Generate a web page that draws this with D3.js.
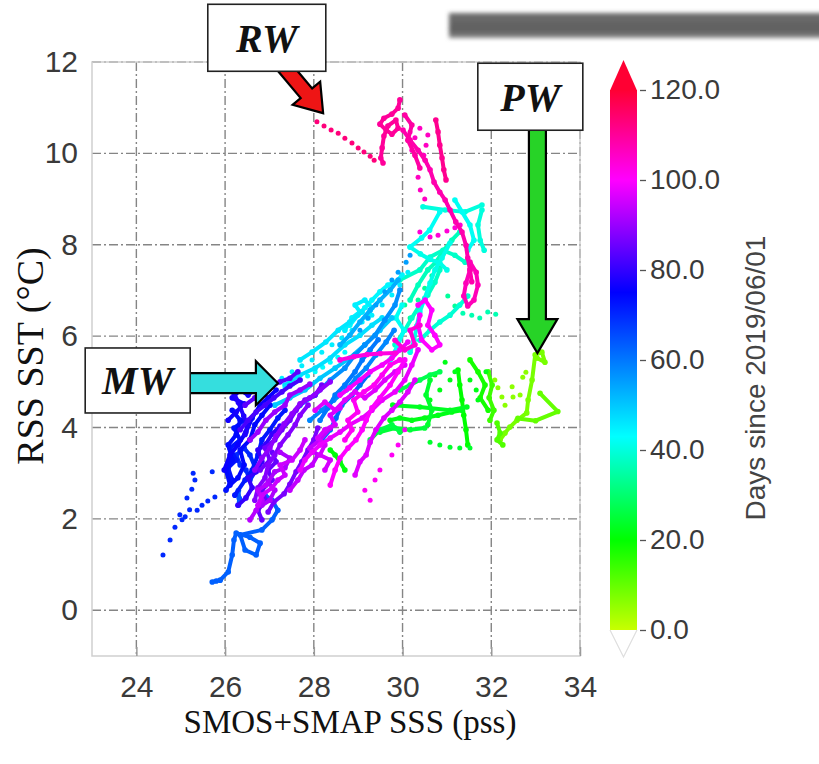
<!DOCTYPE html>
<html>
<head>
<meta charset="utf-8">
<script src="https://cdn.jsdelivr.net/npm/d3@7"></script>
<style>
  html, body { margin: 0; padding: 0; background: #fff; }
  svg { display: block; }
</style>
</head>
<body>
<svg id="chart" width="819" height="764"></svg>
<script>
// ---- axes and colour bar ----
const xTicks = [24, 26, 28, 30, 32, 34];
const yTicks = [0, 2, 4, 6, 8, 10, 12];
const cbarTicks = [0, 20, 40, 60, 80, 100, 120];
const cbarStopDays = [0, 20, 43, 75, 100, 120];
const cbarStopColors = ["#c8ff00", "#00ff00", "#00ffff", "#0000ff", "#ff00ff", "#ff0033"];

// ---- float tracks: day since 2019/06/01, then [SSS (pss), SST (°C)] pairs ----
// runs that read as continuous lines
const coldFreshTracks = [
  {day: 63, pts: [[25.71,0.62],[25.80,0.64],[25.89,0.66],[26.07,0.84],[26.16,1.21],[26.20,1.54],[26.25,1.69],[26.56,1.60],[26.79,1.47],[26.70,1.21],[26.45,1.32],[26.34,1.65],[26.83,1.76],[27.06,1.98],[27.19,2.19],[27.06,2.41],[26.90,2.52]]},
  {day: 64, pts: [[26.30,2.30],[26.32,2.45],[26.30,2.62]]},
  {day: 70, pts: [[26.34,3.18],[26.25,3.40],[26.43,3.55],[26.56,3.40],[26.70,3.07],[26.56,2.85],[26.47,3.07]]},
  {day: 72, pts: [[26.22,2.52],[26.45,2.85],[26.61,3.07],[26.74,3.40],[26.83,3.73],[27.01,3.95],[27.19,4.21],[27.35,4.38]]},
  {day: 73, pts: [[26.02,2.63],[26.16,2.85],[26.07,3.12],[26.25,3.29],[26.11,3.55],[26.34,3.73],[26.20,3.99],[26.43,4.16]]},
  {day: 74, pts: [[26.16,4.38],[26.34,4.16],[26.25,3.84],[26.07,3.62],[26.16,3.29],[26.02,3.07],[26.11,2.74],[26.29,2.90],[26.43,3.18],[26.34,3.51],[26.56,3.73],[26.67,4.06],[26.83,4.27],[27.01,4.49]]},
  {day: 76, pts: [[25.98,3.07],[26.11,3.40],[26.29,3.62],[26.47,3.90],[26.61,4.21],[26.79,4.49],[26.97,4.65],[27.15,4.82]]},
  {day: 77, pts: [[26.07,4.16],[26.25,4.34],[26.43,4.52],[26.16,4.65],[26.34,4.82],[26.52,4.71],[26.70,4.87]]},
  {day: 78, pts: [[26.12,4.93],[26.20,4.75],[26.30,4.55],[26.42,4.25],[26.50,4.05],[26.45,3.85]]},
  {day: 80, pts: [[26.29,2.30],[26.47,2.46],[26.61,2.68],[26.52,2.90],[26.70,3.03],[26.83,3.25],[26.74,3.51],[26.92,3.64],[27.06,3.86],[27.24,4.03]]},
  {day: 82, pts: [[26.34,3.95],[26.52,4.16],[26.70,4.34],[26.90,4.49],[27.10,4.65],[27.28,4.78],[27.46,4.91],[27.69,5.04]]},
  {day: 84, pts: [[26.45,4.49],[26.67,4.65],[26.83,4.78],[27.01,4.87],[27.24,5.00],[27.46,5.08],[27.64,5.22]]},
  {day: 85, pts: [[26.83,1.98],[26.74,2.19],[26.92,2.41],[26.83,2.63],[27.06,2.85],[26.97,3.07],[27.15,3.25],[27.06,3.46]]},
  {day: 86, pts: [[26.79,3.07],[27.01,3.29],[26.90,3.55],[27.12,3.73],[27.28,3.95],[27.46,4.16],[27.60,4.38],[27.80,4.60],[28.03,4.71],[28.18,4.93]]},
  {day: 87, pts: [[26.97,2.15],[27.10,2.37],[27.33,2.55],[27.46,2.76],[27.60,3.03],[27.73,3.25],[27.87,3.51],[28.00,3.73],[28.09,3.99]]},
  {day: 88, pts: [[26.67,2.41],[26.74,2.68],[26.90,2.90],[26.97,3.18],[27.12,3.40],[27.24,3.62],[27.42,3.84],[27.58,4.06],[27.69,4.27],[27.87,4.49]]},
  {day: 89, pts: [[26.67,3.07],[26.83,3.33],[27.01,3.55],[27.15,3.82],[27.33,4.08],[27.51,4.30],[27.69,4.52],[27.91,4.65],[28.14,4.82],[28.37,5.00]]},
  {day: 90, pts: [[26.56,3.73],[26.74,3.90],[26.92,4.16],[27.12,4.34],[27.35,4.49],[27.46,4.71],[27.69,4.82],[27.91,4.95]]},
  {day: 92, pts: [[26.83,2.30],[27.01,2.41],[27.12,2.63],[26.97,2.81],[27.12,3.03],[27.35,3.12],[27.46,3.33],[27.24,3.46]]},
  {day: 93, pts: [[26.56,1.98],[26.70,2.19],[26.83,2.41],[26.74,2.63],[26.92,2.74]]},
  {day: 94, pts: [[27.46,2.63],[27.64,2.85],[27.78,3.07],[27.96,3.18],[28.09,3.40],[27.91,3.55],[28.14,3.73],[28.37,3.99]]},
  {day: 95, pts: [[26.74,2.30],[26.83,2.52],[27.06,2.68],[27.19,2.85],[27.35,2.96],[27.24,3.18],[27.51,3.29],[27.69,3.51],[27.80,3.73]]}
];

const midTracks = [
  {day: 38, pts: [[29.83,5.81],[30.05,6.13],[30.21,6.40],[30.39,6.68],[30.57,6.90],[30.73,7.18],[30.84,7.45]]},
  {day: 42, pts: [[29.72,5.48],[29.90,5.81],[30.03,6.13],[29.85,6.40],[29.99,6.68]]},
  {day: 44, pts: [[28.81,6.24],[28.99,6.46],[29.15,6.62],[29.31,6.79],[29.49,6.97],[29.67,7.12],[29.85,7.18],[29.99,7.34]]},
  {day: 45, pts: [[28.70,6.13],[28.86,6.40],[29.04,6.53],[28.93,6.68],[29.15,6.79],[29.31,6.62],[29.22,6.40]]},
  {day: 46, pts: [[27.69,5.48],[27.96,5.65],[28.27,5.87],[28.55,6.13],[28.81,6.31],[29.09,6.53]]},
  {day: 47, pts: [[27.35,4.93],[27.69,5.15],[28.03,5.30],[28.37,5.52],[28.70,5.81],[29.04,6.02],[29.31,6.24],[29.54,6.40]]},
  {day: 50, pts: [[27.12,4.49],[27.46,4.65],[27.80,4.82],[28.14,5.08],[28.48,5.30],[28.81,5.52],[29.15,5.81],[29.49,6.13],[29.76,6.40]]},
  {day: 53, pts: [[28.59,5.81],[28.81,6.02],[29.04,6.31],[29.27,6.57],[29.49,6.79],[29.72,7.01],[29.90,7.23]]},
  {day: 57, pts: [[27.69,4.49],[28.03,4.71],[28.37,5.04],[28.70,5.30],[28.93,5.59],[29.15,5.81],[29.38,6.02],[29.60,6.35],[29.83,6.68],[29.94,7.01]]},
  {day: 58, pts: [[27.91,4.16],[28.18,4.38],[28.45,4.60],[28.73,4.82],[28.95,5.08],[29.18,5.30],[29.40,5.59],[29.63,5.87],[29.81,6.13]]},
  {day: 60, pts: [[28.14,4.16],[28.32,4.43],[28.48,4.71],[28.70,4.93],[28.93,5.22],[29.09,5.48],[29.27,5.70],[29.45,5.92]]},
  {day: 62, pts: [[28.18,3.73],[28.37,3.95],[28.50,4.21],[28.63,4.49],[28.86,4.71],[29.04,4.93],[29.22,5.15]]},
  {day: 96, pts: [[28.25,3.07],[28.37,3.29],[28.14,3.40],[28.25,3.62],[28.09,3.77],[28.25,3.95],[28.48,4.06],[28.37,4.27],[28.59,4.43]]},
  {day: 97, pts: [[28.93,2.96],[29.04,3.25],[29.18,3.40],[29.27,3.68],[29.40,3.95],[29.58,4.21],[29.76,4.38],[29.94,4.56],[30.12,4.78],[30.28,5.04]]},
  {day: 97, pts: [[28.03,4.38],[28.25,4.56],[28.48,4.38],[28.70,4.60],[28.93,4.78],[29.15,4.65],[29.38,4.82],[29.60,5.04],[29.83,5.22],[30.05,5.37]]},
  {day: 98, pts: [[27.69,3.07],[27.80,3.29],[27.96,3.46],[28.14,3.62],[28.37,3.77],[28.59,3.90],[28.81,4.06],[29.09,4.21],[29.31,4.38],[29.54,4.60],[29.83,4.78],[30.05,5.04],[30.21,5.37],[30.35,5.70]]},
  {day: 99, pts: [[28.59,4.71],[28.81,4.87],[29.04,5.04],[29.27,5.22],[29.54,5.37],[29.76,5.52],[29.94,5.70],[30.12,5.87]]},
  {day: 100, pts: [[28.37,2.74],[28.48,3.07],[28.59,3.33],[28.77,3.55],[28.95,3.73],[29.09,3.95],[29.18,4.16],[29.31,4.43],[29.49,4.65],[29.72,4.93],[29.90,5.22],[30.05,5.48]]},
  {day: 101, pts: [[28.70,3.73],[28.86,3.95],[28.77,4.16],[28.99,4.34],[28.90,4.60],[29.13,4.78],[29.36,4.93],[29.54,5.15],[29.72,5.37],[29.94,5.48]]},
  {day: 103, pts: [[28.59,5.48],[28.90,5.55],[29.20,5.60],[29.50,5.62],[29.83,5.63]]},
  {day: 104, pts: [[29.83,5.91],[30.05,5.70],[30.28,5.81],[30.17,6.13],[30.39,6.24]]}
];

const warmTracks = [
  {day: 37, pts: [[30.17,6.79],[30.35,7.12],[30.57,7.45],[30.75,7.62],[30.93,7.88],[31.11,8.10],[31.29,8.28]]},
  {day: 38, pts: [[29.94,7.23],[30.39,7.45],[30.62,7.73],[30.91,7.88],[31.18,7.77],[31.41,7.62]]},
  {day: 39, pts: [[30.39,5.91],[30.62,6.13],[30.84,6.31],[31.07,6.46],[31.29,6.68],[31.47,6.88]]},
  {day: 40, pts: [[30.46,8.83],[30.96,8.76],[31.41,8.72],[31.79,8.87]]},
  {day: 40, pts: [[31.79,8.76],[31.70,8.43],[31.75,8.10],[31.84,7.88]]},
  {day: 41, pts: [[31.07,8.04],[30.89,7.71],[30.73,7.45],[30.62,7.16],[30.50,6.83],[30.39,6.53],[30.32,6.22],[30.26,5.91],[30.17,5.65]]},
  {day: 41, pts: [[30.17,7.95],[30.40,7.80],[30.62,7.68],[30.84,7.60],[31.00,7.45]]},
  {day: 42, pts: [[30.17,7.95],[30.43,8.15],[30.61,8.32],[30.84,8.72]]},
  {day: 42, pts: [[31.18,8.98],[31.34,8.72],[31.52,8.43],[31.61,8.10],[31.47,7.88]]},
  {day: 100, pts: [[30.35,6.68],[30.51,6.79],[30.66,6.57],[30.57,6.24],[30.73,6.02],[30.84,5.81],[30.66,5.70],[30.43,5.92],[30.35,6.24],[30.39,6.46]]},
  {day: 107, pts: [[31.52,7.62],[31.66,7.40],[31.70,7.12],[31.61,6.79],[31.47,6.66],[31.38,6.88],[31.43,7.16],[31.52,7.45]]},
  {day: 108, pts: [[30.01,10.51],[30.17,10.29],[30.35,10.07],[30.51,9.85],[30.62,9.64],[30.71,9.37],[30.84,9.15],[30.96,8.98],[31.07,8.76],[31.20,8.50],[31.34,8.28],[31.43,7.99],[31.47,7.71],[31.52,7.45],[31.56,7.19]]},
  {day: 109, pts: [[30.05,10.84],[30.21,10.62],[30.12,10.29],[30.28,9.96],[30.39,9.68]]},
  {day: 110, pts: [[29.94,11.17],[29.90,10.99],[29.76,10.86],[29.58,10.77],[29.49,10.64],[29.63,10.51],[29.76,10.42],[29.90,10.55],[29.85,10.73],[29.67,10.60],[29.58,10.38],[29.54,10.12],[29.51,9.90],[29.56,9.79]]},
  {day: 111, pts: [[30.75,10.73],[30.80,10.47],[30.84,10.18],[30.89,9.90],[30.93,9.64],[30.98,9.42]]}
];

const greenTracks = [
  {day: 8, pts: [[33.03,5.52],[33.21,5.43],[33.14,5.65],[32.99,5.59],[32.92,5.04],[32.83,4.60],[32.80,4.32],[32.58,4.16],[32.42,4.01],[32.31,3.88],[32.20,3.73]]},
  {day: 10, pts: [[33.10,4.75],[33.50,4.35],[33.00,4.15],[32.60,4.20]]},
  {day: 12, pts: [[32.13,4.10],[32.20,3.88],[32.13,3.73],[32.26,3.62]]},
  {day: 14, pts: [[31.93,5.22],[32.02,4.93],[31.95,4.65],[32.06,4.38],[31.97,4.16]]},
  {day: 18, pts: [[31.52,5.48],[31.70,5.22],[31.86,4.93],[31.75,4.65],[31.93,4.38]]},
  {day: 20, pts: [[31.25,5.26],[31.29,4.93],[31.34,4.60],[31.38,4.27],[31.43,3.95],[31.47,3.62]]},
  {day: 21, pts: [[28.37,3.51],[28.48,3.40],[28.59,3.25],[28.70,3.07]]},
  {day: 22, pts: [[29.72,4.16],[29.94,4.21],[30.21,4.16],[30.50,4.21],[30.80,4.27],[31.11,4.34],[31.34,4.38]]},
  {day: 23, pts: [[29.78,4.49],[30.39,4.45],[31.07,4.38],[31.45,4.45]]},
  {day: 24, pts: [[30.62,5.04],[30.53,4.71],[30.66,4.38],[30.57,4.06]]},
  {day: 25, pts: [[29.49,3.90],[29.83,3.99],[30.17,3.95],[30.50,3.99]]},
  {day: 26, pts: [[29.27,3.73],[29.49,3.95],[29.76,4.06],[29.94,3.90]]},
  {day: 27, pts: [[29.94,4.82],[30.17,4.93],[30.39,5.04],[30.62,5.15],[30.84,5.22]]}
];

// runs that read as separate dots
const dottedTracks = [
  {day: 6, pts: [[32.08,5.04],[32.15,4.87],[32.24,4.67],[32.31,4.49],[32.47,4.89],[32.49,4.67],[32.65,4.71],[32.71,5.10],[32.78,5.21]]},
  {day: 22, pts: [[30.62,4.60],[30.84,4.82],[31.07,5.04],[31.18,5.22],[31.52,5.04],[31.66,4.82],[31.88,5.22],[31.70,4.60],[30.96,5.43],[30.73,5.15]]},
  {day: 24, pts: [[30.62,3.68],[30.84,3.62],[31.07,3.57],[31.29,3.55],[31.52,3.55]]},
  {day: 34, pts: [[30.35,6.79],[30.50,7.05],[30.66,7.32],[30.84,7.49],[31.02,6.88],[31.18,6.66],[30.17,6.40],[30.05,6.68]]},
  {day: 36, pts: [[31.36,6.50],[31.56,6.46],[31.74,6.40],[31.92,6.53],[32.10,6.48]]},
  {day: 43, pts: [[27.35,4.87],[27.52,4.95],[27.69,5.04],[27.86,5.13],[28.03,5.22],[28.20,5.32],[28.37,5.43],[28.54,5.54],[28.70,5.65]]},
  {day: 45, pts: [[27.28,5.08],[27.51,5.22],[27.73,5.35],[27.96,5.48],[28.18,5.65],[28.41,5.81],[28.63,5.96],[28.86,6.13],[29.09,6.31],[29.31,6.46],[29.54,6.68],[29.76,6.90],[29.94,7.12],[30.12,7.40]]},
  {day: 55, pts: [[29.04,6.13],[29.22,6.40],[29.40,6.68],[29.60,6.97],[29.76,7.23],[29.90,7.40],[30.08,7.62],[30.17,7.77]]},
  {day: 70, pts: [[24.60,1.21],[24.76,1.54],[24.87,1.82],[25.03,1.98],[24.98,2.09],[25.14,2.46],[25.25,2.65],[25.32,2.85],[25.28,3.00],[25.71,3.03],[25.37,2.19],[25.48,2.30],[25.61,2.39],[25.77,2.48],[25.20,2.20],[25.10,2.05]]},
  {day: 101, pts: [[29.38,2.85],[29.49,3.07],[29.76,3.40],[29.90,3.62],[30.05,3.95],[29.15,2.63],[29.27,2.41]]},
  {day: 104, pts: [[30.39,8.28],[30.62,8.17],[30.80,8.21],[31.00,8.30],[31.18,8.37],[31.30,8.43]]},
  {day: 106, pts: [[30.17,10.47],[30.28,10.34],[30.39,10.55],[30.53,10.18],[30.57,10.40],[30.21,10.07],[30.48,9.96],[30.35,9.48],[30.40,9.20],[30.50,9.00]]},
  {day: 113, pts: [[28.07,10.69],[28.23,10.60],[28.39,10.51],[28.55,10.44],[28.70,10.33],[28.86,10.23],[29.00,10.12],[29.13,10.03],[29.27,9.94],[29.36,9.85]]}
];

// ---- water-mass call-outs: box centre and arrow tail/tip in data units ----
const calloutLabels = ["RW", "PW", "MW"];
const calloutBoxes = [[26.94, 12.53], [32.88, 11.24], [24.03, 5.03]];
const calloutTails = [[27.24, 12.0], [33.04, 10.62], [25.10, 4.97]];
const calloutTips = [[28.21, 10.88], [33.04, 5.63], [27.19, 4.97]];
const calloutColors = ["#ee1515", "#27d327", "#35dede"];

// ---- layout ----
const svg = d3.select("#chart");
const plot = {left: 92, right: 580, top: 62, bottom: 656};
const x = d3.scaleLinear().domain([23, 34]).range([plot.left, plot.right]);
const y = d3.scaleLinear().domain([-1, 12]).range([plot.bottom, plot.top]);
const color = d3.scaleLinear().domain(cbarStopDays).range(cbarStopColors).clamp(true);

const defs = svg.append("defs");
const blur = defs.append("filter").attr("id", "soft").attr("x", "-10%").attr("y", "-60%").attr("width", "120%").attr("height", "220%");
blur.append("feGaussianBlur").attr("stdDeviation", 2.2);
const barGrad = defs.append("linearGradient").attr("id", "barShade").attr("x1", 0).attr("y1", 0).attr("x2", 0).attr("y2", 1);
barGrad.append("stop").attr("offset", "0%").attr("stop-color", "#6e6e6e");
barGrad.append("stop").attr("offset", "70%").attr("stop-color", "#5e5e5e");
barGrad.append("stop").attr("offset", "100%").attr("stop-color", "#8a8a8a");

// decorative header bar
svg.append("rect").attr("x", 449).attr("y", 13).attr("width", 380).attr("height", 25)
  .attr("fill", "url(#barShade)").attr("filter", "url(#soft)");

// grid
const grid = svg.append("g").attr("stroke", "#858585").attr("stroke-width", 1.4)
  .attr("stroke-dasharray", "9,3,2,3").attr("fill", "none");
grid.selectAll("line.gx").data(xTicks).join("line")
  .attr("x1", d => x(d)).attr("x2", d => x(d)).attr("y1", plot.top).attr("y2", plot.bottom);
grid.selectAll("line.gy").data(yTicks).join("line")
  .attr("y1", d => y(d)).attr("y2", d => y(d)).attr("x1", plot.left).attr("x2", plot.right);

// frame
svg.append("rect").attr("x", plot.left).attr("y", plot.top)
  .attr("width", plot.right - plot.left).attr("height", plot.bottom - plot.top)
  .attr("fill", "none").attr("stroke", "#cfcfcf").attr("stroke-width", 1.5);
// redraw top and right grid on top of the frame
grid.append("line").attr("x1", plot.left).attr("x2", plot.right).attr("y1", y(12)).attr("y2", y(12));
grid.append("line").attr("x1", x(34)).attr("x2", x(34)).attr("y1", plot.top).attr("y2", plot.bottom);

// axes
const xAxis = svg.append("g").attr("transform", `translate(0,${plot.bottom})`)
  .call(d3.axisBottom(x).tickValues(xTicks).tickFormat(d3.format("d")).tickSizeInner(-9).tickSizeOuter(0).tickPadding(20));
const yAxis = svg.append("g").attr("transform", `translate(${plot.left},0)`)
  .call(d3.axisLeft(y).tickValues(yTicks).tickFormat(d3.format("d")).tickSize(0).tickPadding(14));
[xAxis, yAxis].forEach(g => {
  g.select(".domain").remove();
  g.selectAll(".tick line").attr("stroke", "#9a9a9a").attr("stroke-width", 1.5);
  g.selectAll(".tick text").attr("fill", "#3a3a3a")
    .style("font-family", "'Liberation Sans', Arial, sans-serif").style("font-size", "30px");
});

svg.append("text").attr("x", 350).attr("y", 733).attr("text-anchor", "middle")
  .style("font-family", "'Liberation Serif', 'Times New Roman', serif").style("font-size", "33px")
  .attr("fill", "#111").text("SMOS+SMAP SSS (pss)");
svg.append("text").attr("transform", "translate(43,356) rotate(-90)").attr("text-anchor", "middle")
  .style("font-family", "'Liberation Serif', 'Times New Roman', serif").style("font-size", "38px")
  .attr("fill", "#111").text("RSS SST (°C)");

// tracks, earliest days first so later days sit on top
const allLines = [...coldFreshTracks, ...midTracks, ...warmTracks, ...greenTracks].map(t => ({...t, kind: "line"}));
const allDots = dottedTracks.map(t => ({...t, kind: "dots"}));
const tracks = [...allLines, ...allDots].sort((a, b) => a.day - b.day);
const lineGen = d3.line().x(d => x(d[0])).y(d => y(d[1]));
const marks = svg.append("g");
tracks.forEach(t => {
  const c = color(t.day);
  if (t.kind === "line") {
    marks.append("path").datum(t.pts).attr("d", lineGen)
      .attr("fill", "none").attr("stroke", c).attr("stroke-width", 4)
      .attr("stroke-linejoin", "round").attr("stroke-linecap", "round");
  }
  marks.append("g").selectAll("circle").data(t.pts).join("circle")
    .attr("cx", d => x(d[0])).attr("cy", d => y(d[1]))
    .attr("r", t.kind === "line" ? 2.8 : 2.5).attr("fill", c);
});

// colour bar
const cb = {x: 610, w: 27, top: 90, bottom: 630};
const cy = d3.scaleLinear().domain([0, 120]).range([cb.bottom, cb.top]);
const cbGrad = defs.append("linearGradient").attr("id", "cbGrad").attr("x1", 0).attr("y1", 1).attr("x2", 0).attr("y2", 0);
cbarStopDays.forEach((d, i) => {
  cbGrad.append("stop").attr("offset", (d / 120 * 100) + "%").attr("stop-color", cbarStopColors[i]);
});
svg.append("rect").attr("x", cb.x).attr("y", cy(120)).attr("width", cb.w).attr("height", cy(0) - cy(120))
  .attr("fill", "url(#cbGrad)");
svg.append("path")
  .attr("d", `M${cb.x},${cy(120) + 0.5} L${cb.x + cb.w / 2},${cy(120) - 30} L${cb.x + cb.w},${cy(120) + 0.5} Z`)
  .attr("fill", color(120));
svg.append("path")
  .attr("d", `M${cb.x},${cy(0)} L${cb.x + cb.w / 2},${cy(0) + 27} L${cb.x + cb.w},${cy(0)}`)
  .attr("fill", "#fff").attr("stroke", "#dedede").attr("stroke-width", 1.2);
const cbAxis = svg.append("g").attr("transform", `translate(${cb.x + cb.w + 3},0)`)
  .call(d3.axisRight(cy).tickValues(cbarTicks).tickFormat(d3.format(".1f")).tickSize(6).tickPadding(4));
cbAxis.select(".domain").remove();
cbAxis.selectAll(".tick line").attr("stroke", "#555").attr("stroke-width", 1.3);
cbAxis.selectAll(".tick text").attr("fill", "#3a3a3a")
  .style("font-family", "'Liberation Sans', Arial, sans-serif").style("font-size", "28px");
svg.append("text").attr("transform", "translate(765,378) rotate(-90)").attr("text-anchor", "middle")
  .style("font-family", "'Liberation Sans', Arial, sans-serif").style("font-size", "28px")
  .attr("fill", "#444").text("Days since 2019/06/01");

// call-outs: arrow first, then the labelled box over its tail
function arrowPath(p0, p1, shaftW, headW, headL) {
  const dx = p1[0] - p0[0], dy = p1[1] - p0[1];
  const len = Math.hypot(dx, dy);
  const ux = dx / len, uy = dy / len, nx = -uy, ny = ux;
  const nk = [p1[0] - ux * headL, p1[1] - uy * headL];
  const pts = [
    [p0[0] + nx * shaftW / 2, p0[1] + ny * shaftW / 2],
    [nk[0] + nx * shaftW / 2, nk[1] + ny * shaftW / 2],
    [nk[0] + nx * headW / 2, nk[1] + ny * headW / 2],
    p1,
    [nk[0] - nx * headW / 2, nk[1] - ny * headW / 2],
    [nk[0] - nx * shaftW / 2, nk[1] - ny * shaftW / 2],
    [p0[0] - nx * shaftW / 2, p0[1] - ny * shaftW / 2]
  ];
  return "M" + pts.map(p => p.join(",")).join("L") + "Z";
}
const arrowSizes = [[15, 36, 26], [17, 40, 34], [20, 44, 22]];
const boxSizes = [[118, 67], [105, 67], [105, 65]];
calloutLabels.forEach((lab, i) => {
  const t0 = [x(calloutTails[i][0]), y(calloutTails[i][1])];
  const t1 = [x(calloutTips[i][0]), y(calloutTips[i][1])];
  const [sw, hw, hl] = arrowSizes[i];
  svg.append("path").attr("d", arrowPath(t0, t1, sw, hw, hl))
    .attr("fill", calloutColors[i]).attr("stroke", "#000").attr("stroke-width", 2.2)
    .attr("stroke-linejoin", "miter");
  const cx = x(calloutBoxes[i][0]), cyy = y(calloutBoxes[i][1]);
  const [bw, bh] = boxSizes[i];
  svg.append("rect").attr("x", cx - bw / 2).attr("y", cyy - bh / 2).attr("width", bw).attr("height", bh)
    .attr("fill", "#fff").attr("stroke", "#222").attr("stroke-width", 1.6);
  svg.append("text").attr("x", cx).attr("y", cyy + 14).attr("text-anchor", "middle")
    .style("font-family", "'Liberation Serif', 'Times New Roman', serif")
    .style("font-size", "40px").style("font-weight", "bold").style("font-style", "italic")
    .attr("fill", "#111").text(lab);
});
</script>
</body>
</html>
